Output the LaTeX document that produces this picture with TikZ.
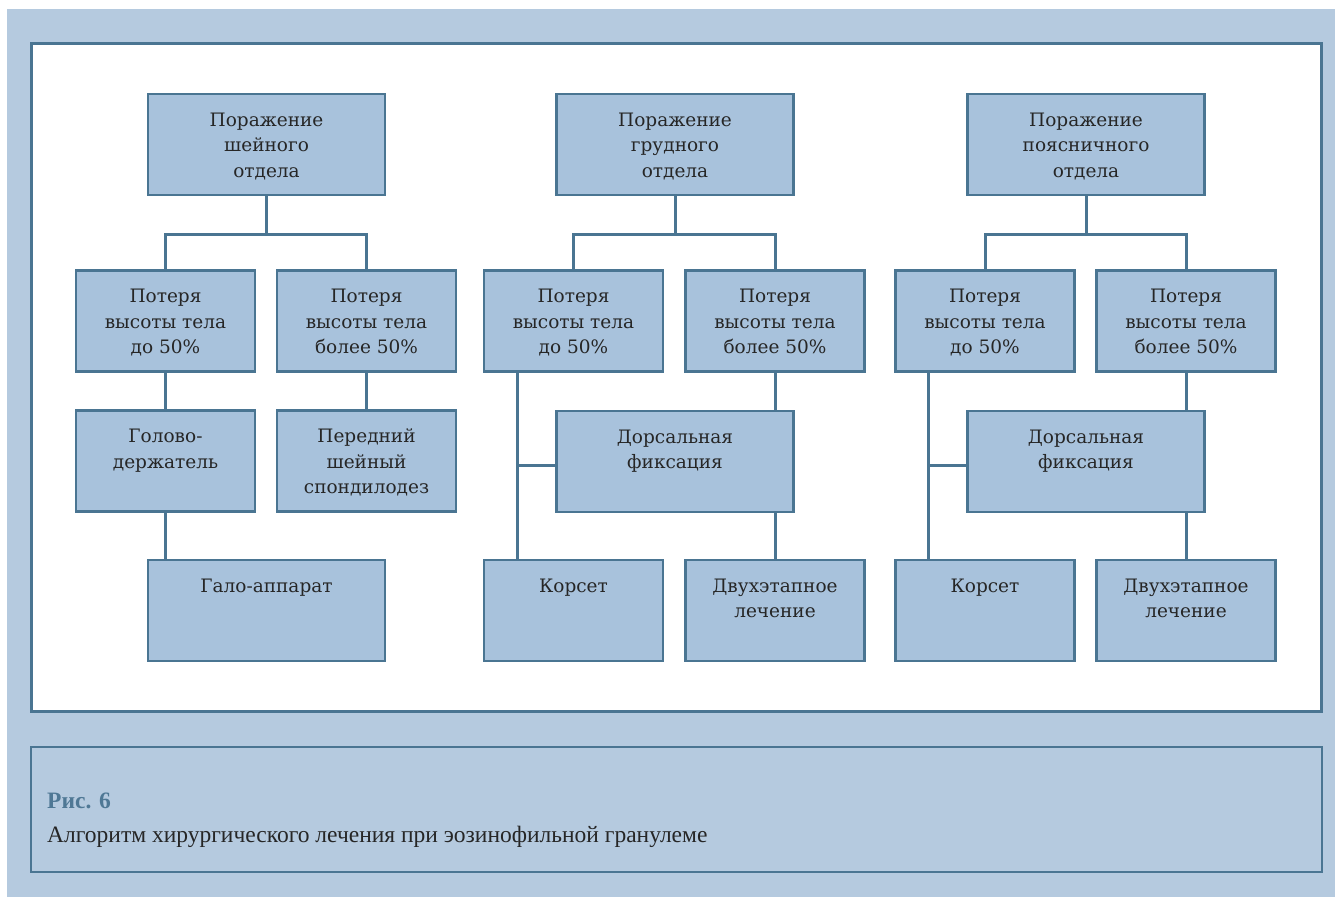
\documentclass[tikz,border=0pt]{standalone}
\usepackage{fontspec}
\setmainfont{DejaVu Serif}
\newfontfamily\capfont{Liberation Serif}
\usepackage{tikz}
\usetikzlibrary{positioning}
\definecolor{bgblue}{HTML}{B5CADF}
\definecolor{boxblue}{HTML}{A8C2DC}
\definecolor{lineblue}{HTML}{4A7592}
\definecolor{capblue}{HTML}{4F7895}
\definecolor{txtgray}{HTML}{262626}
\newcommand{\lines}[1]{\begin{tabular}[t]{@{}c@{}}#1\end{tabular}}
\tikzset{box/.style={draw=lineblue, fill=boxblue, line width=2.8pt,
  minimum width=179pt, inner sep=0pt, text height=32pt, text depth=69pt,
  text=txtgray, font=\fontsize{18.5}{25.5}\selectfont}}
\tikzset{wide/.style={box, minimum width=237pt}}
\tikzset{link/.style={draw=lineblue, line width=3pt}}

\begin{document}
\begin{tikzpicture}[x=1pt, y=-1pt]

\useasboundingbox (0,0) rectangle (1335,898);
\fill[white] (0,0) rectangle (1335,898);
\fill[bgblue] (7,9) rectangle (1335,897);
\draw[lineblue, line width=3pt, fill=white] (31,43) rectangle (1321,711);
\draw[lineblue, line width=1.5pt] (31,747) rectangle (1322,872);

% шейный отдел
\node[wide] (cTop) at (266.5,144.5) {\lines{Поражение\\шейного\\отдела}};
\node[box] (cLess) at (165.5,321) {\lines{Потеря\\высоты тела\\до 50\%}};
\node[box] (cMore) at (366.5,321) {\lines{Потеря\\высоты тела\\более 50\%}};
\node[box] (cHold) at (165.5,461) {\lines{Голово-\\держатель}};
\node[box] (cFront) at (366.5,461) {\lines{Передний\\шейный\\спондилодез}};
\node[wide] (cHalo) at (266.5,610.5) {\lines{Гало-аппарат}};
\coordinate (cFork) at (266.5,234);
\draw[link] (cTop) -- (cFork);
\draw[link] (cLess.north) |- (cFork) -| (cMore.north);
\draw[link] (cLess) -- (cHold);
\draw[link] (cMore) -- (cFront);
\draw[link] (cHold.south) -- (cHold.south |- cHalo.north);

% грудной отдел
\node[wide] (tTop) at (675,144.5) {\lines{Поражение\\грудного\\отдела}};
\node[box] (tLess) at (573.5,321) {\lines{Потеря\\высоты тела\\до 50\%}};
\node[box] (tMore) at (775,321) {\lines{Потеря\\высоты тела\\более 50\%}};
\node[wide] (tDors) at (675,461.5) {\lines{Дорсальная\\фиксация}};
\node[box] (tCorset) at (573.5,610.5) {\lines{Корсет}};
\node[box] (tTwo) at (775,610.5) {\lines{Двухэтапное\\лечение}};
\coordinate (tFork) at (675,234);
\coordinate (tKnee) at (517,465);
\draw[link] (tTop) -- (tFork);
\draw[link] (tLess.north) |- (tFork) -| (tMore.north);
\draw[link] (tLess.south -| tKnee) -- (tCorset.north -| tKnee);
\draw[link] (tKnee) -- (tKnee -| tDors.west);
\draw[link] (tMore.south) -- (tMore.south |- tDors.north);
\draw[link] (tTwo.north |- tDors.south) -- (tTwo.north);

% поясничный отдел
\node[wide] (lTop) at (1086,144.5) {\lines{Поражение\\поясничного\\отдела}};
\node[box] (lLess) at (985,321) {\lines{Потеря\\высоты тела\\до 50\%}};
\node[box] (lMore) at (1186,321) {\lines{Потеря\\высоты тела\\более 50\%}};
\node[wide] (lDors) at (1086,461.5) {\lines{Дорсальная\\фиксация}};
\node[box] (lCorset) at (985,610.5) {\lines{Корсет}};
\node[box] (lTwo) at (1186,610.5) {\lines{Двухэтапное\\лечение}};
\coordinate (lFork) at (1086,234);
\coordinate (lKnee) at (928,465);
\draw[link] (lTop) -- (lFork);
\draw[link] (lLess.north) |- (lFork) -| (lMore.north);
\draw[link] (lLess.south -| lKnee) -- (lCorset.north -| lKnee);
\draw[link] (lKnee) -- (lKnee -| lDors.west);
\draw[link] (lMore.south) -- (lMore.south |- lDors.north);
\draw[link] (lTwo.north |- lDors.south) -- (lTwo.north);

% подпись
\node[anchor=base west, inner sep=0pt, text=capblue,
  font=\capfont\bfseries\fontsize{23.5}{27}\selectfont] (figNo) at (47,808) {Рис. 6};
\node[anchor=base west, inner sep=0pt, text=txtgray,
  font=\capfont\fontsize{23.5}{27}\selectfont] (figTitle) at (47,842)
  {Алгоритм хирургического лечения при эозинофильной гранулеме};

\end{tikzpicture}
\end{document}
